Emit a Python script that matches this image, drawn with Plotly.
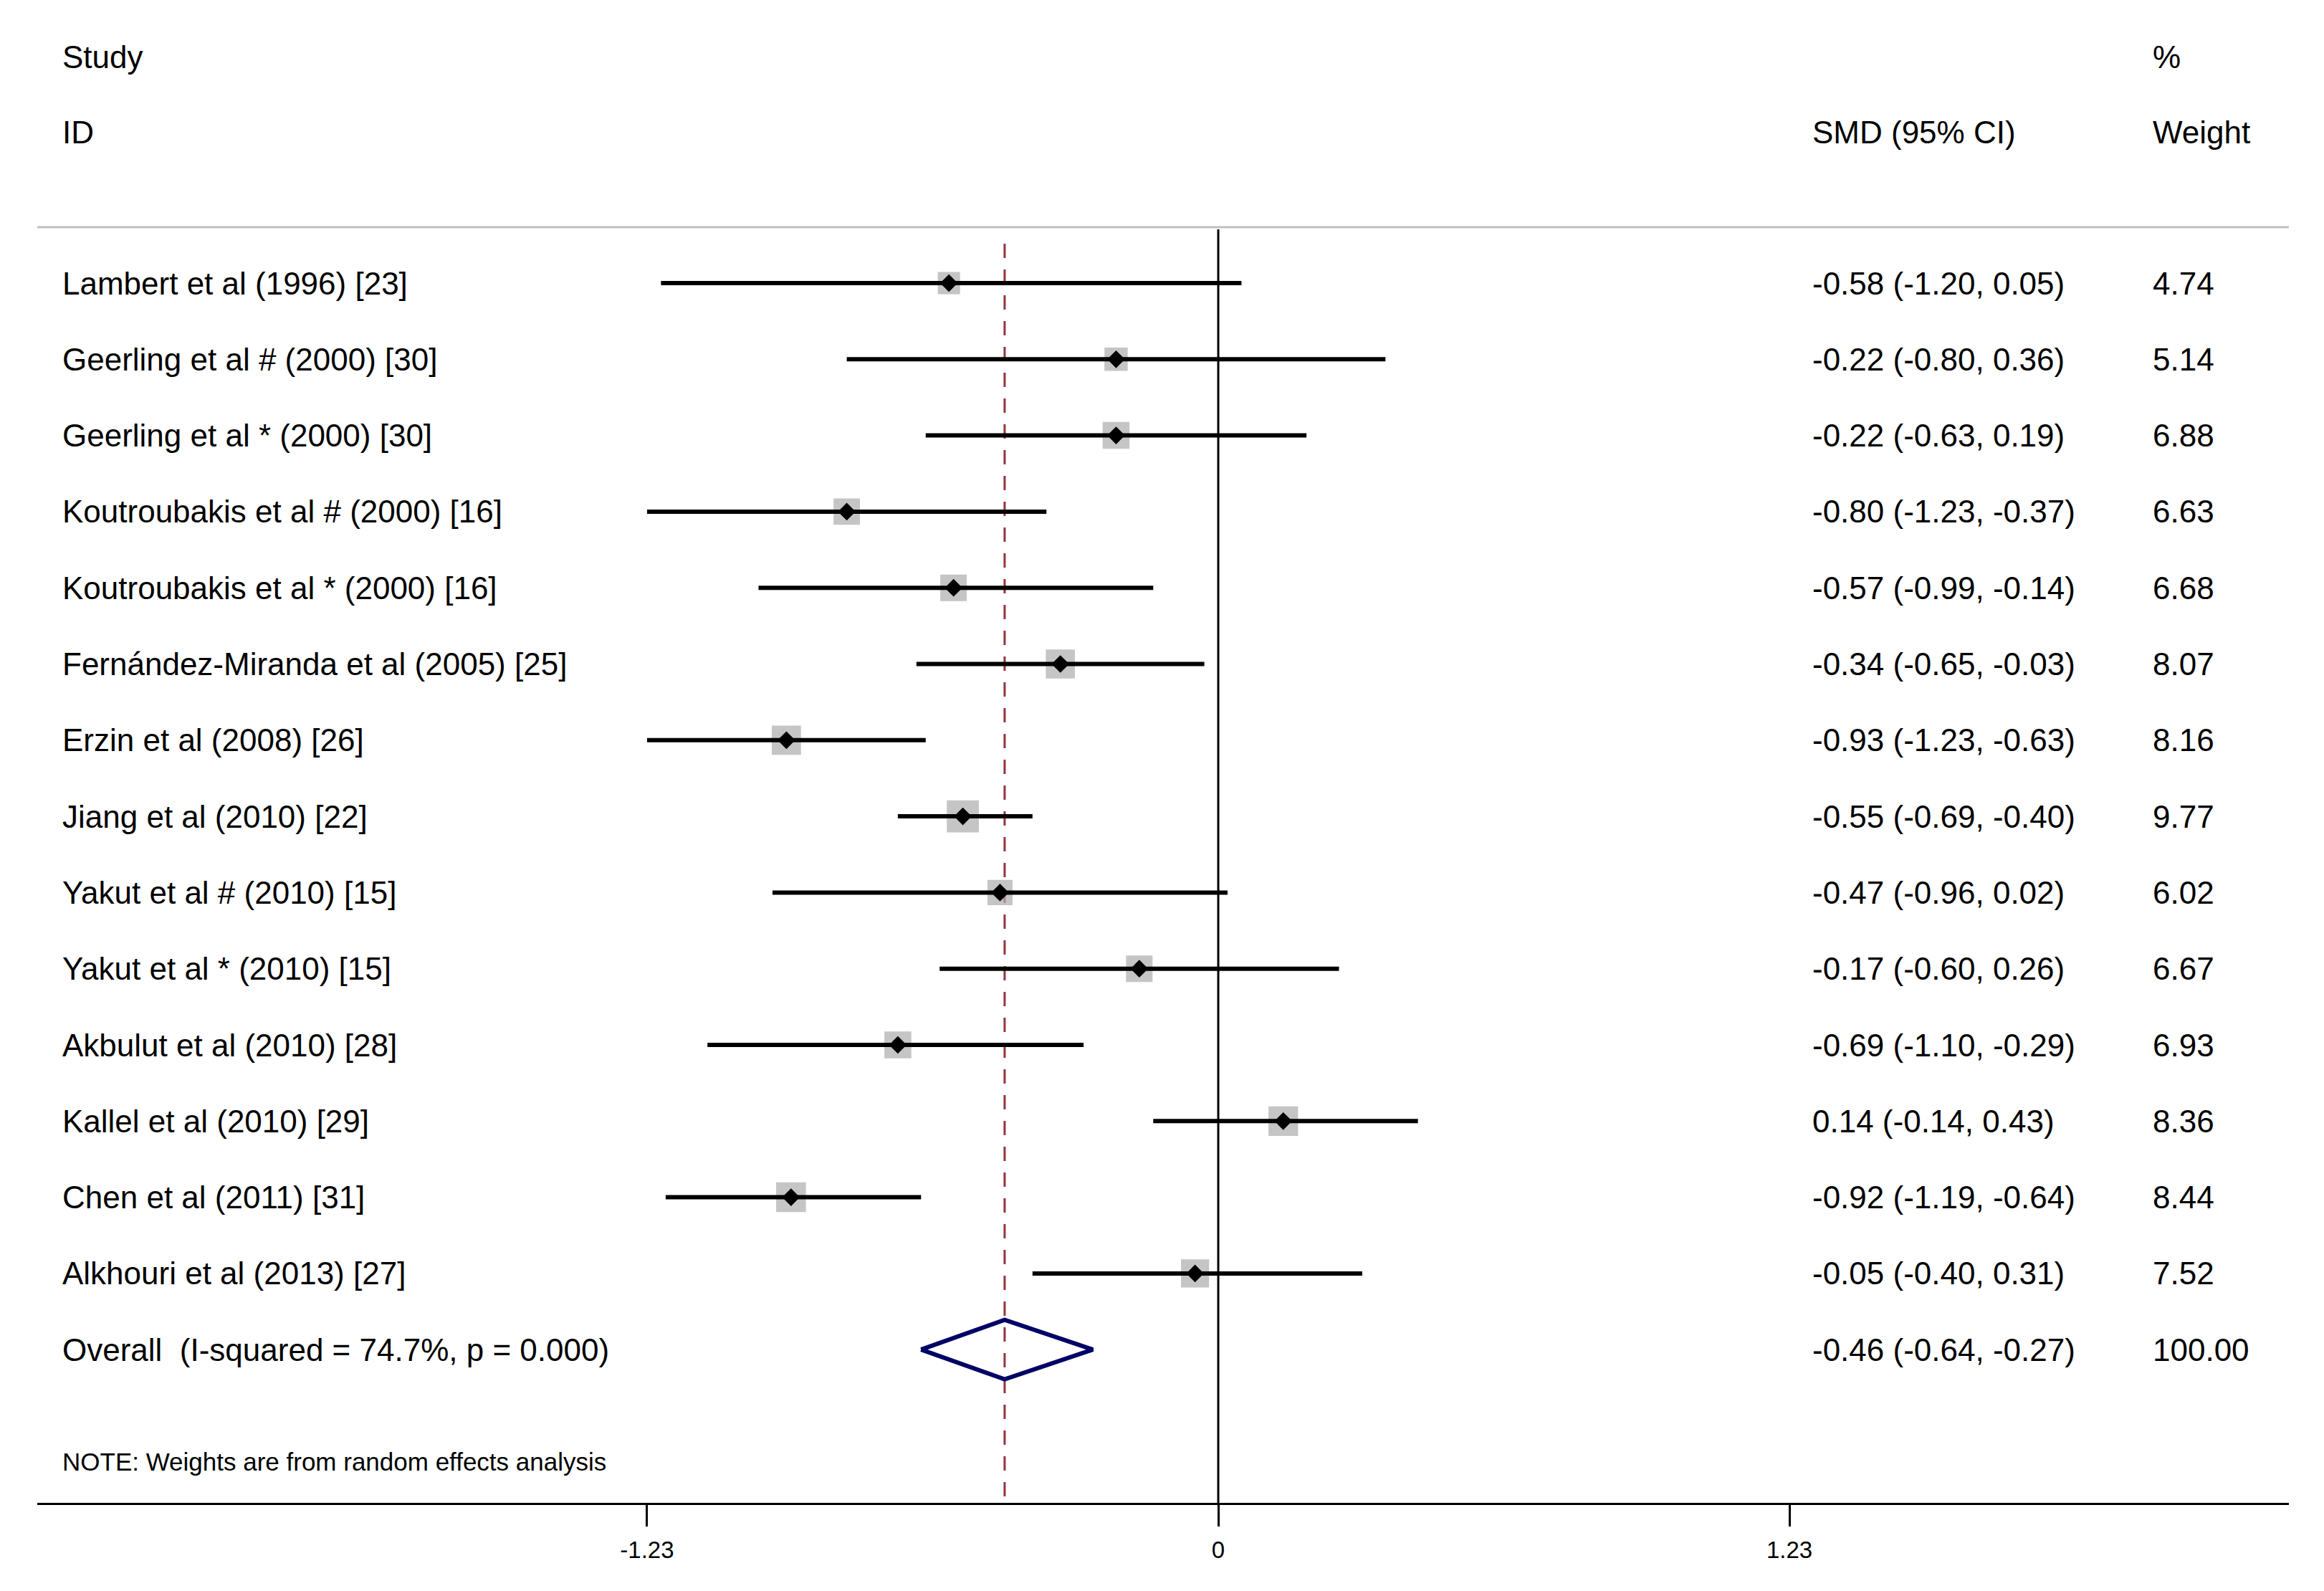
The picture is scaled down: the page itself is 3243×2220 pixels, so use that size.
import math
import plotly.graph_objects as go

# ---------------- data ----------------
studies = [
    "Lambert et al (1996) [23]",
    "Geerling et al # (2000) [30]",
    "Geerling et al * (2000) [30]",
    "Koutroubakis et al # (2000) [16]",
    "Koutroubakis et al * (2000) [16]",
    "Fernández-Miranda et al (2005) [25]",
    "Erzin et al (2008) [26]",
    "Jiang et al (2010) [22]",
    "Yakut et al # (2010) [15]",
    "Yakut et al * (2010) [15]",
    "Akbulut et al (2010) [28]",
    "Kallel et al (2010) [29]",
    "Chen et al (2011) [31]",
    "Alkhouri et al (2013) [27]",
]
smd = [-0.58, -0.22, -0.22, -0.80, -0.57, -0.34, -0.93, -0.55, -0.47, -0.17, -0.69, 0.14, -0.92, -0.05]
ci_low = [-1.20, -0.80, -0.63, -1.23, -0.99, -0.65, -1.23, -0.69, -0.96, -0.60, -1.10, -0.14, -1.19, -0.40]
ci_high = [0.05, 0.36, 0.19, -0.37, -0.14, -0.03, -0.63, -0.40, 0.02, 0.26, -0.29, 0.43, -0.64, 0.31]
weights = [4.74, 5.14, 6.88, 6.63, 6.68, 8.07, 8.16, 9.77, 6.02, 6.67, 6.93, 8.36, 8.44, 7.52]

overall_label = "Overall\u00a0\u00a0(I-squared = 74.7%, p = 0.000)"
overall_smd = -0.46
overall_low = -0.64
overall_high = -0.27
overall_weight = 100.00

tick_vals = [-1.23, 0, 1.23]
tick_text = ["-1.23", "0", "1.23"]

note_text = "NOTE: Weights are from random effects analysis"

# ---------------- geometry (page pixels) ----------------
OFF = 8                            # default page body margin
W, H = 3243 - OFF, 2220 - OFF
plot_l, plot_r = 52 - OFF, 3194 - OFF
axis_y_px = 2097 - OFF
zero_px, px_per_unit = 1700 - OFF, 648.0
row1_px, row_step = 395.0 - OFF, 106.3

x_lo = (plot_l - zero_px) / px_per_unit
x_hi = (plot_r - zero_px) / px_per_unit
y_top = 1 - row1_px / row_step
y_bot = 1 + (axis_y_px - row1_px) / row_step


def xpx(p):
    return (p - OFF - zero_px) / px_per_unit


def ypx(p):
    return 1 + (p - OFF - row1_px) / row_step


FONT = "Liberation Sans, Arial, sans-serif"
n = len(studies)
rows = list(range(1, n + 1))
overall_row = n + 1

fig = go.Figure()

# gray weight squares
fig.add_trace(go.Scatter(
    x=smd, y=rows, mode="markers",
    marker=dict(symbol="square", color="#adadad",
                size=[14.3 * math.sqrt(w) for w in weights], line=dict(width=0)),
    hoverinfo="skip", showlegend=False))

# CI lines
cx, cy = [], []
for lo, hi, r in zip(ci_low, ci_high, rows):
    cx += [lo, hi, None]
    cy += [r, r, None]
fig.add_trace(go.Scatter(x=cx, y=cy, mode="lines",
                         line=dict(color="black", width=6),
                         hoverinfo="skip", showlegend=False))

# point estimates
fig.add_trace(go.Scatter(x=smd, y=rows, mode="markers",
                         marker=dict(symbol="diamond", color="black", size=19, line=dict(width=0)),
                         hoverinfo="skip", showlegend=False))

# overall diamond
dh = 0.39
fig.add_trace(go.Scatter(
    x=[overall_low, overall_smd, overall_high, overall_smd, overall_low],
    y=[overall_row, overall_row - dh, overall_row, overall_row + dh, overall_row],
    mode="lines", line=dict(color="#000066", width=6),
    hoverinfo="skip", showlegend=False))

shapes = [
    # header separator
    dict(type="line", xref="x", yref="y", x0=x_lo, x1=x_hi, y0=ypx(317), y1=ypx(317),
         line=dict(color="#c0c0c0", width=3), layer="below"),
    # null line
    dict(type="line", xref="x", yref="y", x0=0, x1=0, y0=ypx(320), y1=y_bot,
         line=dict(color="black", width=3), layer="below"),
    # overall effect dashed line
    dict(type="line", xref="x", yref="y", x0=overall_smd, x1=overall_smd, y0=ypx(340), y1=y_bot,
         line=dict(color="#933440", width=3, dash="20px,16px"), layer="below"),
]

ann = []
TXT = 44


def add_text(xp, y, text, size=TXT):
    ann.append(dict(x=xpx(xp), y=y, xref="x", yref="y", text=text, showarrow=False,
                    xanchor="left", yanchor="middle",
                    font=dict(family=FONT, size=size, color="black")))


left_px, smd_px, wt_px = 85, 2527, 3002
add_text(left_px, ypx(79), "Study")
add_text(left_px, ypx(184), "ID")
add_text(smd_px, ypx(184), "SMD (95% CI)")
add_text(wt_px, ypx(79), "%")
add_text(wt_px, ypx(184), "Weight")

for s, m, lo, hi, w, r in zip(studies, smd, ci_low, ci_high, weights, rows):
    add_text(left_px, r, s)
    add_text(smd_px, r, f"{m:.2f} ({lo:.2f}, {hi:.2f})")
    add_text(wt_px, r, f"{w:.2f}")

add_text(left_px, overall_row, overall_label)
add_text(smd_px, overall_row, f"{overall_smd:.2f} ({overall_low:.2f}, {overall_high:.2f})")
add_text(wt_px, overall_row, f"{overall_weight:.2f}")

add_text(left_px, ypx(2039), note_text, size=35)

fig.update_layout(
    width=W, height=H,
    margin=dict(l=plot_l, r=W - plot_r, t=0, b=H - axis_y_px, pad=0),
    paper_bgcolor="white", plot_bgcolor="white",
    shapes=shapes, annotations=ann, showlegend=False,
    xaxis=dict(range=[x_lo, x_hi], showgrid=False, zeroline=False,
               showline=True, linecolor="black", linewidth=3,
               ticks="outside", ticklen=30, tickwidth=3, tickcolor="black",
               tickvals=tick_vals, ticktext=tick_text, ticklabelstandoff=4,
               tickfont=dict(family=FONT, size=33, color="black"),
               fixedrange=True),
    yaxis=dict(range=[y_bot, y_top], showgrid=False, zeroline=False,
               showline=False, showticklabels=False, ticks="", fixedrange=True),
)

fig.write_html("out.html")
